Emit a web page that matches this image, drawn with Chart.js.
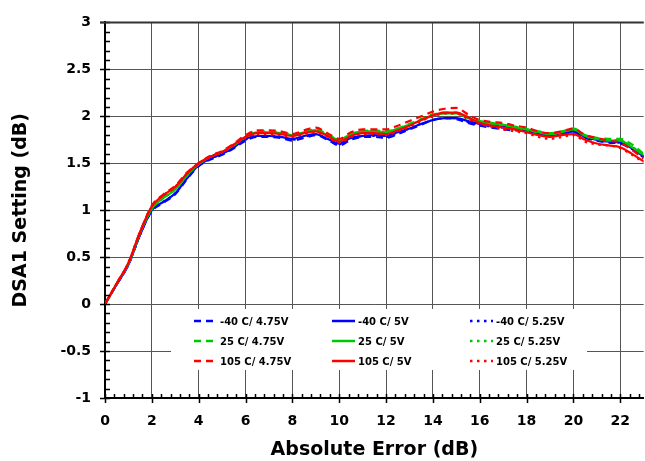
<!DOCTYPE html>
<html>
<head>
<meta charset="utf-8">
<script src="https://cdn.jsdelivr.net/npm/chart.js@4"></script>
<style>
    body { margin: 0; background: #fff; }
    #wrap { width: 645px; height: 461px; }
</style>
</head>
<body>
<div id="wrap"><canvas id="chart" width="645" height="461"></canvas></div>
<script>
// x positions (Absolute Error, dB)
const errorDb = [0, 0.5, 1, 1.5, 2, 2.5, 3, 3.5, 4, 4.5, 5, 5.5, 6, 6.5, 7, 7.5, 8, 8.5, 9, 9.5, 10, 10.5, 11, 11.5,
    12, 12.5, 13, 13.5, 14, 14.5, 15, 15.5, 16, 16.5, 17, 17.5, 18, 18.5, 19, 19.5, 20, 20.5, 21, 21.5, 22, 22.5, 23];

// DSA1 setting per condition
const m40_475 = [0, 0.21, 0.42, 0.74, 0.99, 1.08, 1.17, 1.33, 1.47, 1.54, 1.59, 1.66, 1.74, 1.78, 1.78, 1.77, 1.74, 1.77, 1.80, 1.75, 1.69, 1.75, 1.78, 1.78,
    1.77, 1.81, 1.86, 1.91, 1.96, 1.98, 1.97, 1.93, 1.90, 1.88, 1.86, 1.85, 1.84, 1.81, 1.79, 1.81, 1.83, 1.77, 1.74, 1.72, 1.71, 1.65, 1.56];
const m40_5 = [0, 0.21, 0.42, 0.74, 1.00, 1.09, 1.18, 1.34, 1.48, 1.55, 1.60, 1.67, 1.76, 1.79, 1.79, 1.78, 1.76, 1.79, 1.81, 1.76, 1.71, 1.77, 1.79, 1.80,
    1.79, 1.83, 1.87, 1.92, 1.96, 1.98, 1.98, 1.95, 1.92, 1.90, 1.89, 1.87, 1.85, 1.82, 1.80, 1.82, 1.84, 1.78, 1.75, 1.73, 1.72, 1.66, 1.57];
const m40_525 = [0, 0.21, 0.42, 0.74, 1.00, 1.09, 1.18, 1.34, 1.48, 1.55, 1.60, 1.67, 1.75, 1.79, 1.79, 1.78, 1.75, 1.78, 1.81, 1.76, 1.70, 1.76, 1.79, 1.79,
    1.78, 1.82, 1.87, 1.92, 1.96, 1.98, 1.98, 1.94, 1.91, 1.89, 1.88, 1.86, 1.84, 1.82, 1.80, 1.82, 1.84, 1.78, 1.75, 1.73, 1.72, 1.66, 1.57];

const p25_475 = [0, 0.22, 0.43, 0.76, 1.02, 1.14, 1.23, 1.38, 1.50, 1.57, 1.62, 1.70, 1.79, 1.84, 1.84, 1.83, 1.81, 1.83, 1.86, 1.81, 1.75, 1.81, 1.84, 1.85,
    1.84, 1.87, 1.92, 1.97, 2.02, 2.04, 2.04, 1.99, 1.95, 1.93, 1.91, 1.89, 1.86, 1.84, 1.82, 1.84, 1.87, 1.80, 1.77, 1.76, 1.76, 1.70, 1.60];
const p25_5 = [0, 0.22, 0.43, 0.76, 1.02, 1.13, 1.22, 1.37, 1.49, 1.57, 1.62, 1.69, 1.78, 1.83, 1.83, 1.82, 1.80, 1.83, 1.85, 1.80, 1.75, 1.81, 1.84, 1.84,
    1.83, 1.87, 1.91, 1.96, 2.01, 2.03, 2.03, 1.98, 1.94, 1.92, 1.91, 1.88, 1.86, 1.83, 1.81, 1.83, 1.86, 1.79, 1.76, 1.74, 1.74, 1.67, 1.59];
const p25_525 = [0, 0.22, 0.43, 0.76, 1.01, 1.13, 1.22, 1.37, 1.49, 1.57, 1.62, 1.69, 1.78, 1.82, 1.83, 1.82, 1.80, 1.82, 1.85, 1.80, 1.74, 1.80, 1.83, 1.84,
    1.83, 1.86, 1.91, 1.96, 2.00, 2.03, 2.03, 1.98, 1.94, 1.92, 1.90, 1.88, 1.85, 1.83, 1.81, 1.83, 1.86, 1.79, 1.76, 1.75, 1.74, 1.68, 1.58];

const p105_475 = [0, 0.22, 0.44, 0.77, 1.05, 1.17, 1.26, 1.40, 1.50, 1.58, 1.63, 1.71, 1.80, 1.85, 1.85, 1.84, 1.81, 1.85, 1.88, 1.82, 1.76, 1.83, 1.86, 1.86,
    1.86, 1.90, 1.95, 2.00, 2.05, 2.08, 2.09, 2.02, 1.96, 1.94, 1.93, 1.90, 1.88, 1.84, 1.82, 1.84, 1.87, 1.80, 1.77, 1.74, 1.72, 1.64, 1.55];
const p105_5 = [0, 0.22, 0.44, 0.77, 1.04, 1.16, 1.25, 1.39, 1.50, 1.57, 1.62, 1.70, 1.78, 1.82, 1.82, 1.81, 1.79, 1.82, 1.84, 1.79, 1.73, 1.79, 1.82, 1.82,
    1.81, 1.85, 1.90, 1.96, 2.01, 2.04, 2.04, 1.99, 1.93, 1.90, 1.88, 1.86, 1.83, 1.80, 1.78, 1.80, 1.81, 1.75, 1.71, 1.69, 1.67, 1.60, 1.52];
const p105_525 = [0, 0.22, 0.44, 0.77, 1.04, 1.16, 1.25, 1.39, 1.50, 1.57, 1.62, 1.69, 1.77, 1.81, 1.81, 1.80, 1.78, 1.81, 1.83, 1.78, 1.72, 1.78, 1.81, 1.81,
    1.80, 1.84, 1.89, 1.95, 2.00, 2.03, 2.03, 1.97, 1.92, 1.89, 1.86, 1.84, 1.82, 1.78, 1.76, 1.78, 1.80, 1.73, 1.70, 1.69, 1.66, 1.59, 1.51];

const temps = ['-40 C', '25 C', '105 C'];
const volts = ['4.75V', '5V', '5.25V'];
const tempColors = ['#0000ff', '#00c800', '#ff0000'];
const voltDash = [[7, 5], [], [2.5, 4.5]];
const seriesValues = [
    [m40_475, m40_5, m40_525],
    [p25_475, p25_5, p25_525],
    [p105_475, p105_5, p105_525]
];

const FONT = "'DejaVu Sans', Verdana, sans-serif";

const datasets = [];
temps.forEach((t, ti) => {
    volts.forEach((v, vi) => {
        datasets.push({
            label: t + '/ ' + v,
            data: errorDb.map((x, i) => ({x: x, y: seriesValues[ti][vi][i]})),
            borderColor: tempColors[ti],
            borderDash: voltDash[vi],
            borderWidth: 2.2,
            pointRadius: 0,
            cubicInterpolationMode: 'monotone',
            order: 2 - ti,
            _row: ti,
            _col: vi
        });
    });
});

// minor / major tick marks on both axes, heavy top frame line
const tickMarks = {
    id: 'tickMarks',
    afterDraw(chart) {
        const {ctx, chartArea: a, scales: {x, y}} = chart;
        ctx.save();
        ctx.strokeStyle = '#000';
        ctx.lineWidth = 1.5;
        ctx.beginPath();
        for (let i = -10; i <= 30; i++) {
            const py = Math.round(y.getPixelForValue(i / 10)) + 0.5;
            const major = i % 5 === 0;
            ctx.moveTo(a.left - (major ? 5 : 0), py);
            ctx.lineTo(a.left + 5, py);
        }
        for (let i = 0; i <= 57; i++) {
            const px = Math.round(x.getPixelForValue(i * 0.4)) + 0.5;
            if (px > a.right) break;
            const major = i % 5 === 0;
            ctx.moveTo(px, a.bottom - 4);
            ctx.lineTo(px, a.bottom + (major ? 5 : 0));
        }
        ctx.stroke();
        ctx.strokeStyle = '#333';
        ctx.lineWidth = 2;
        ctx.beginPath();
        ctx.moveTo(a.left - 5, a.top);
        ctx.lineTo(a.right, a.top);
        ctx.stroke();
        ctx.restore();
    }
};

// boxed legend inside the plot, 3 x 3 grid
const innerLegend = {
    id: 'innerLegend',
    afterDatasetsDraw(chart) {
        const ctx = chart.ctx;
        const colX = [194, 332, 470];
        const rowY = [321, 341, 361];
        ctx.save();
        ctx.fillStyle = '#fff';
        ctx.fillRect(171, 309, 416, 61);
        ctx.font = 'bold 10px ' + FONT;
        ctx.textBaseline = 'middle';
        chart.data.datasets.forEach(ds => {
            const x0 = colX[ds._col];
            const y0 = rowY[ds._row];
            ctx.strokeStyle = ds.borderColor;
            ctx.lineWidth = 2.5;
            ctx.setLineDash(ds.borderDash);
            ctx.beginPath();
            ctx.moveTo(x0, y0);
            ctx.lineTo(x0 + 23, y0);
            ctx.stroke();
            ctx.setLineDash([]);
            ctx.fillStyle = '#000';
            ctx.fillText(ds.label, x0 + 26, y0 + 1);
        });
        ctx.restore();
    }
};

new Chart(document.getElementById('chart'), {
    type: 'line',
    data: {datasets: datasets},
    options: {
        responsive: false,
        animation: false,
        layout: {padding: {top: 10, right: 0, left: 0, bottom: 0}},
        plugins: {
            legend: {display: false},
            tooltip: {enabled: false}
        },
        scales: {
            x: {
                type: 'linear',
                min: 0,
                max: 23,
                afterFit: s => { s.height = 63; },
                ticks: {
                    stepSize: 2,
                    includeBounds: false,
                    padding: 15,
                    color: '#000',
                    font: {family: FONT, size: 14, weight: 'bold'}
                },
                grid: {color: '#555', lineWidth: 1, drawTicks: false},
                border: {color: '#000', width: 2},
                title: {
                    display: true,
                    text: 'Absolute Error (dB)',
                    color: '#000',
                    padding: {top: 0, bottom: 0},
                    font: {family: FONT, size: 19, weight: 'bold'}
                }
            },
            y: {
                min: -1,
                max: 3,
                afterFit: s => { s.width = 105; },
                ticks: {
                    stepSize: 0.5,
                    padding: 14,
                    color: '#000',
                    callback: v => String(v),
                    font: {family: FONT, size: 14, weight: 'bold'}
                },
                grid: {color: '#555', lineWidth: 1, drawTicks: false},
                border: {color: '#000', width: 2},
                title: {
                    display: true,
                    text: 'DSA1 Setting (dB)',
                    color: '#000',
                    padding: {top: 10, bottom: 0},
                    font: {family: FONT, size: 19, weight: 'bold'}
                }
            }
        }
    },
    plugins: [innerLegend, tickMarks]
});
</script>
</body>
</html>
